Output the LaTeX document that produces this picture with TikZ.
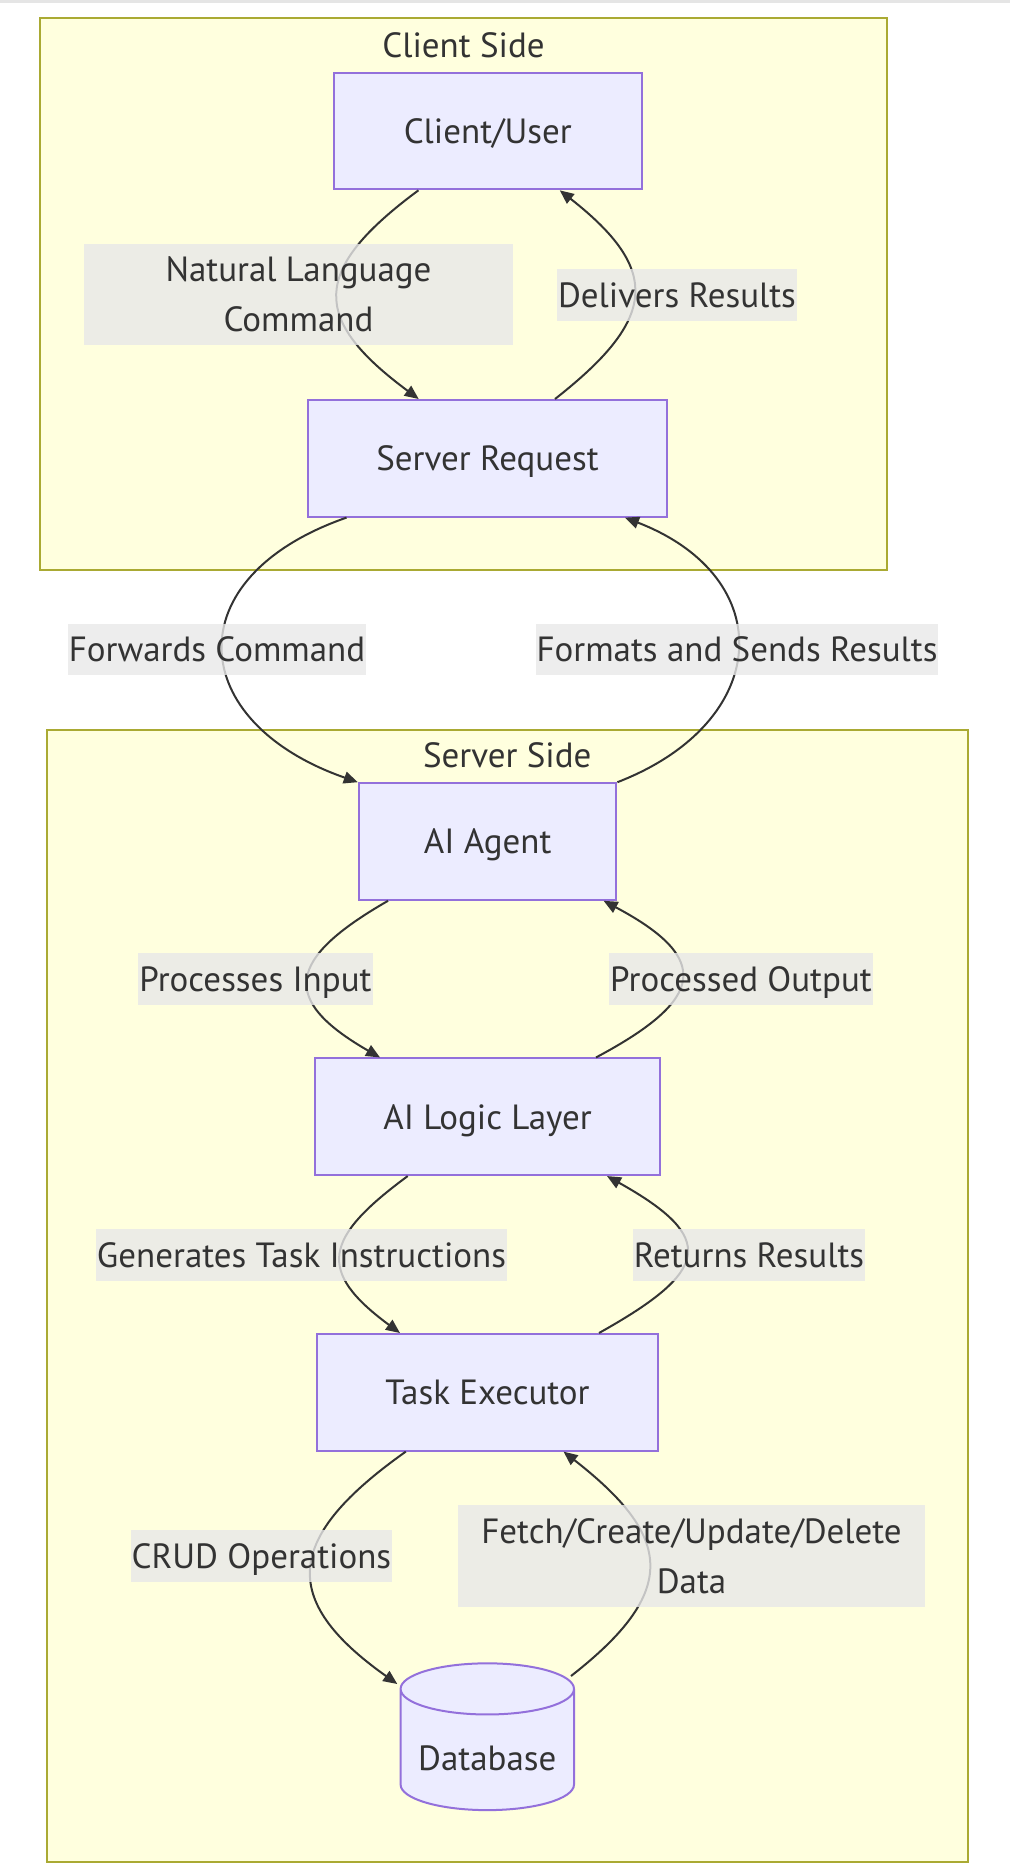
\documentclass[tikz,border=0pt]{standalone}
\usepackage{fontspec}
\setmainfont{PT Sans}
\usetikzlibrary{arrows.meta,shapes.geometric}
\definecolor{clusterfill}{HTML}{FFFFDE}
\definecolor{clusterline}{HTML}{AAAA33}
\definecolor{boxfill}{HTML}{ECECFF}
\definecolor{boxline}{HTML}{9370DB}
\definecolor{labelfill}{HTML}{E8E8E8}
\definecolor{ink}{HTML}{333333}
\tikzset{
  cluster/.style={draw=clusterline, fill=clusterfill, line width=2pt, inner sep=0pt},
  title/.style={text=ink, inner sep=0pt, text height=24.5pt, text depth=0pt},
  box/.style={draw=boxline, fill=boxfill, line width=2pt, text=ink, inner sep=0pt,
    minimum height=116.6pt, text height=24.5pt, text depth=0pt},
  store/.style={cylinder, shape border rotate=90, aspect=0.37, draw=boxline, fill=boxfill,
    line width=2pt, text=ink, inner sep=0pt, minimum width=173.4pt, minimum height=146.8pt,
    text height=40.5pt, text depth=0pt},
  elabel/.style={fill=labelfill, fill opacity=0.8, text opacity=1, text=ink, inner xsep=1pt,
    inner ysep=13.5pt, align=center, text height=24.5pt, text depth=0pt},
  twoline/.style={text height=74.5pt},
  flow/.style={draw=ink, line width=2pt, -{Triangle[length=14pt,width=12pt]}},
}
\begin{document}
\begin{tikzpicture}[x=1pt, y=-1pt, font=\fontsize{35}{50}\selectfont]
  \useasboundingbox (0,0) rectangle (1010,1876);
  \fill[gray!20] (0,0) rectangle (1010,3);

  % clusters
  \node[cluster, minimum width=847pt, minimum height=551.6pt] (client) at (463.5,294.2) {};
  \node[title] (clientT) at (463.5,45) {Client Side};
  \node[cluster, minimum width=920.5pt, minimum height=1132.5pt] (server) at (507.25,1295.75) {};
  \node[title] (serverT) at (507.25,755) {Server Side};

  % nodes
  \node[box, minimum width=307.5pt] (cu) at (487.75,131) {Client/User};
  \node[box, minimum width=359pt] (sr) at (487.5,458.3) {Server Request};
  \node[box, minimum width=257.6pt] (ag) at (487.6,841.5) {AI Agent};
  \node[box, minimum width=345pt] (ll) at (487.5,1116.75) {AI Logic Layer};
  \node[box, minimum width=341pt] (te) at (487.5,1392.3) {Task Executor};
  \node[store] (db) at (487.3,1750) {Database};

  % connectors
  \draw[flow] ([xshift=-69.3pt]cu.south) .. controls +(-108,80) and +(-108,-80) .. ([xshift=-68.8pt]sr.north);
  \draw[flow] ([xshift=67.5pt]sr.north) .. controls +(102,-80) and +(102,80) .. ([xshift=72pt]cu.south);
  \draw[flow] ([xshift=-141pt]sr.south) .. controls +(-172,60) and +(-172,-60) .. (ag.north west);
  \draw[flow] (ag.north east) .. controls +(155,-60) and +(155,60) .. ([xshift=137.5pt]sr.south);
  \draw[flow] ([xshift=-99.6pt]ag.south) .. controls +(-101,58) and +(-101,-58) .. ([xshift=-107.5pt]ll.north);
  \draw[flow] ([xshift=108.5pt]ll.north) .. controls +(109,-58) and +(109,58) .. ([xshift=116pt]ag.south);
  \draw[flow] ([xshift=-79.8pt]ll.south) .. controls +(-84,62) and +(-84,-62) .. ([xshift=-87.5pt]te.north);
  \draw[flow] ([xshift=111.5pt]te.north) .. controls +(111,-62) and +(111,62) .. ([xshift=119.5pt]ll.south);
  \draw[flow] ([xshift=-81.7pt]te.south) .. controls +(-120,85) and +(-120,-85) .. ([shift={(-90,-66)}]db.center);
  \draw[flow] ([shift={(83.7,-74)}]db.center) .. controls +(109,-85) and +(109,85) .. ([xshift=76pt]te.south);

  % edge labels
  \node[elabel, twoline, minimum width=429pt] (lNat) at (298.5,294.5) {Natural Language\\Command};
  \node[elabel] (lDel) at (677,295) {Delivers Results};
  \node[elabel] (lFwd) at (217,649.7) {Forwards Command};
  \node[elabel] (lFmt) at (737,649.7) {Formats and Sends Results};
  \node[elabel] (lPin) at (255.5,979) {Processes Input};
  \node[elabel] (lPout) at (741,979) {Processed Output};
  \node[elabel] (lGen) at (301.5,1254.8) {Generates Task Instructions};
  \node[elabel] (lRet) at (749,1254.8) {Returns Results};
  \node[elabel] (lCrud) at (261.4,1556) {CRUD Operations};
  \node[elabel, twoline, minimum width=467pt] (lFetch) at (691.5,1556) {Fetch/Create/Update/Delete\\Data};
\end{tikzpicture}
\end{document}
